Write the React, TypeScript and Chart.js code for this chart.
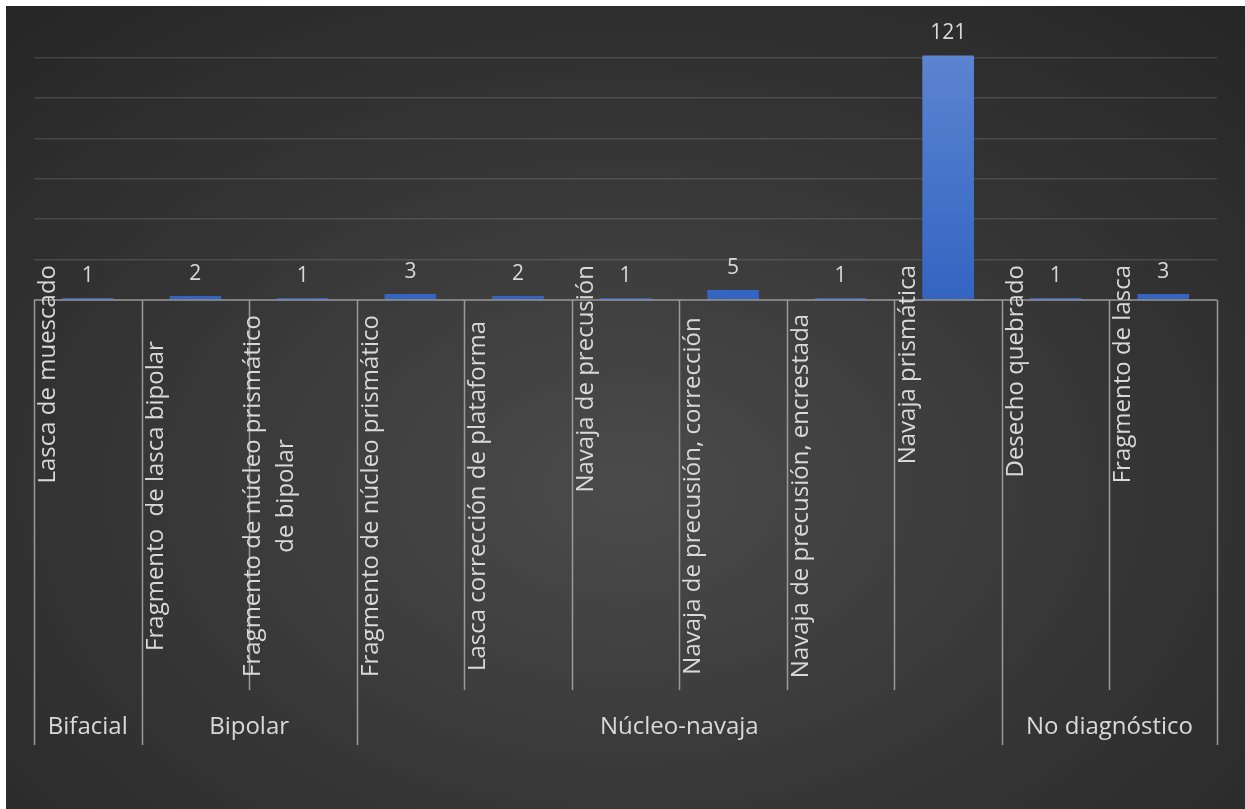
import React, { useEffect, useRef } from 'react';
import { Chart, registerables } from 'chart.js';

Chart.register(...registerables);

const groupNames = ['Bifacial', 'Bipolar', 'Núcleo-navaja', 'No diagnóstico'];
const groupSizes = [1, 2, 6, 2];
const categoryLabels: (string | string[])[] = [
  'Lasca de muescado',
  'Fragmento  de lasca bipolar',
  ['Fragmento de núcleo prismático', 'de bipolar'],
  'Fragmento de núcleo prismático',
  'Lasca corrección de plataforma',
  'Navaja de precusión',
  'Navaja de precusión, corrección',
  'Navaja de precusión, encrestada',
  'Navaja prismática',
  'Desecho quebrado',
  'Fragmento de lasca',
];
const counts = [1, 2, 1, 3, 2, 1, 5, 1, 121, 1, 3];
const yMin = 0;
const yMax = 140;
const yStep = 20;

const FONT = '"Open Sans", "Noto Sans", sans-serif';
const TEXT = '#d9d9d9';
const LINE = '#9a9a9a';

const axisPlugin = {
  id: 'excelAxis',
  afterDatasetsDraw(chart: any) {
    const { ctx, chartArea } = chart;
    const meta = chart.getDatasetMeta(0);
    ctx.save();
    ctx.fillStyle = TEXT;
    ctx.font = `21px ${FONT}`;
    ctx.textAlign = 'center';
    ctx.textBaseline = 'alphabetic';
    meta.data.forEach((bar: any, i: number) => {
      ctx.fillText(String(counts[i]), bar.x, bar.y - 16);
    });
    ctx.restore();
  },
  afterDraw(chart: any) {
    const { ctx, chartArea } = chart;
    const xs = chart.scales.x;
    const n = categoryLabels.length;
    const w = (chartArea.right - chartArea.left) / n;
    const bottom = chartArea.bottom;
    const boundaries = new Set<number>([0]);
    let acc = 0;
    groupSizes.forEach((s) => {
      acc += s;
      boundaries.add(acc);
    });

    ctx.save();
    // axis line
    ctx.strokeStyle = LINE;
    ctx.lineWidth = 1.5;
    ctx.beginPath();
    ctx.moveTo(chartArea.left, bottom);
    ctx.lineTo(chartArea.right, bottom);
    ctx.stroke();

    // separators
    for (let i = 0; i <= n; i++) {
      const xp = xs.getPixelForValue(Math.min(i, n - 1)) + (i === n ? w / 2 : -w / 2);
      const len = boundaries.has(i) ? 445 : 390;
      ctx.beginPath();
      ctx.moveTo(Math.round(xp) + 0.5, bottom);
      ctx.lineTo(Math.round(xp) + 0.5, bottom + len);
      ctx.stroke();
    }

    // category labels
    ctx.fillStyle = TEXT;
    ctx.font = `24px ${FONT}`;
    ctx.textBaseline = 'alphabetic';
    categoryLabels.forEach((lab, i) => {
      const lines = Array.isArray(lab) ? lab : [lab];
      const colLeft = xs.getPixelForValue(i) - w / 2;
      const widest = Math.max(...lines.map((l) => ctx.measureText(l).width));
      const long = widest > 280;
      lines.forEach((line, li) => {
        const bx = colLeft + 21 - (lines.length - 1) * 10 + li * 33;
        ctx.save();
        if (long) {
          ctx.translate(bx, bottom + 196);
          ctx.rotate(-Math.PI / 2);
          ctx.textAlign = 'center';
        } else {
          ctx.translate(bx, bottom - 35);
          ctx.rotate(-Math.PI / 2);
          ctx.textAlign = 'right';
        }
        ctx.fillText(line, 0, 0);
        ctx.restore();
      });
    });

    // group labels
    ctx.textAlign = 'center';
    ctx.textBaseline = 'middle';
    let start = 0;
    groupNames.forEach((g, gi) => {
      const x0 = xs.getPixelForValue(start) - w / 2;
      const x1 = xs.getPixelForValue(start + groupSizes[gi] - 1) + w / 2;
      ctx.fillText(g, (x0 + x1) / 2, bottom + 427);
      start += groupSizes[gi];
    });
    ctx.restore();
  },
};

export default function App() {
  const ref = useRef<HTMLCanvasElement | null>(null);
  useEffect(() => {
    if (!ref.current) return;
    const chart = new Chart(ref.current, {
      type: 'bar',
      data: {
        labels: categoryLabels.map((l) => (Array.isArray(l) ? l.join(' ') : l)),
        datasets: [
          {
            data: counts,
            backgroundColor: (c: any) => {
              const ca = c.chart.chartArea;
              if (!ca) return '#4472c4';
              const g = c.chart.ctx.createLinearGradient(0, ca.top, 0, ca.bottom);
              g.addColorStop(0, '#6189d3');
              g.addColorStop(1, '#3464c2');
              return g;
            },
            barPercentage: 0.48,
            categoryPercentage: 1,
          },
        ],
      },
      options: {
        animation: false,
        responsive: true,
        maintainAspectRatio: false,
        layout: { padding: { left: 28, right: 28, top: 11, bottom: 509 } },
        plugins: {
          legend: { display: false },
          tooltip: { enabled: false },
        },
        scales: {
          x: { display: false },
          y: {
            min: yMin,
            max: yMax,
            ticks: { display: false, stepSize: yStep },
            border: { display: false },
            grid: {
              drawTicks: false,
              lineWidth: 1.5,
              color: (c: any) =>
                c.tick && (c.tick.value === yMax || c.tick.value === yMin)
                  ? 'rgba(0,0,0,0)'
                  : 'rgba(255,255,255,0.13)',
            },
          },
        },
      },
      plugins: [axisPlugin],
    });
    return () => chart.destroy();
  }, []);
  return (
    <div
      style={{
        position: 'absolute',
        left: 6,
        top: 6,
        width: 1239,
        height: 803,
        background: 'radial-gradient(ellipse 75% 80% at 50% 60%, #4b4b4b 0%, #353535 55%, #262626 100%)',
      }}
    >
      <canvas ref={ref} />
    </div>
  );
}
